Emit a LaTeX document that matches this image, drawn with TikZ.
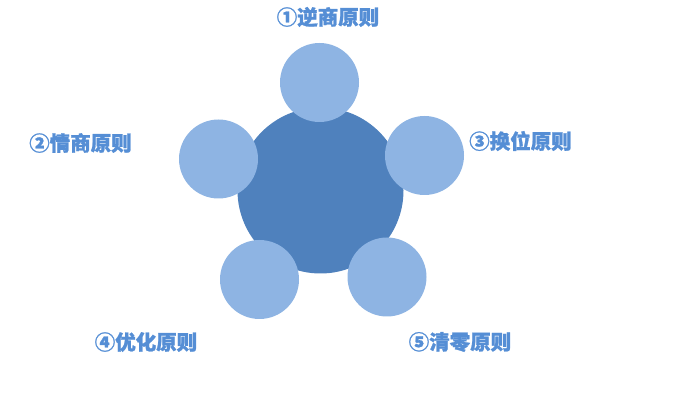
\documentclass[tikz,border=0pt]{standalone}
\usepackage{fontspec}
\newfontfamily\cjk{Noto Sans CJK SC Bold}[FakeBold=1.2]
\definecolor{bigc}{HTML}{4F81BD}
\definecolor{smallc}{HTML}{8EB4E3}
\definecolor{txtc}{HTML}{558ED5}
\tikzset{
  hub/.style={circle, fill=bigc, draw=none, minimum size=166pt, inner sep=0pt},
  petal/.style={circle, fill=smallc, draw=none, minimum size=79pt, inner sep=0pt},
  lbl/.style={text=txtc, font=\cjk\bfseries\fontsize{20.5}{24}\selectfont, inner sep=0pt, anchor=center}
}
\begin{document}
\begin{tikzpicture}[x=1pt,y=1pt]
\useasboundingbox (0,0) rectangle (677,404);
\node[hub] (hub) at (320.5,213.5) {};
\node[petal] (p1) at (319.5,321.5) {};
\node[petal] (p2) at (218.5,245) {};
\node[petal] (p3) at (424.5,248.5) {};
\node[petal] (p4) at (259.5,124.5) {};
\node[petal] (p5) at (387,127) {};
\node[lbl] (l1) at (328,387) {①逆商原则};
\node[lbl] (l2) at (80.5,261) {②情商原则};
\node[lbl] (l3) at (520.5,263) {③换位原则};
\node[lbl] (l4) at (146,62) {④优化原则};
\node[lbl] (l5) at (460,62) {⑤清零原则};
\end{tikzpicture}
\end{document}
